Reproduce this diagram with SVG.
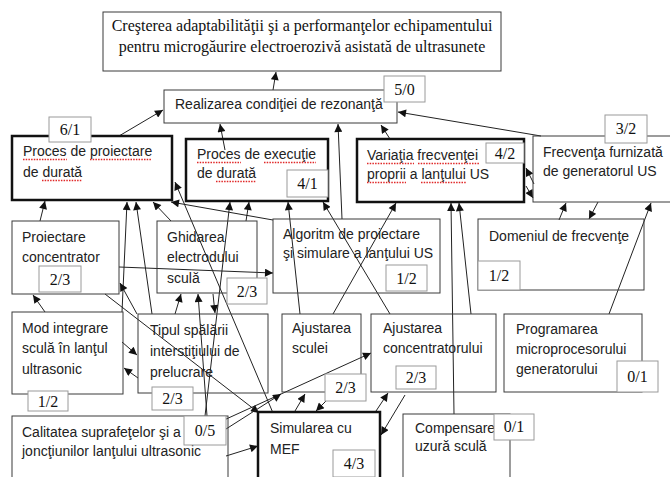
<svg xmlns="http://www.w3.org/2000/svg" width="670" height="477" viewBox="0 0 670 477">
<defs>
<style>
.box{fill:none;stroke:#3a3a3a;stroke-width:1}
.thick{fill:none;stroke:#111;stroke-width:2.5}
.lbl{fill:#fff;stroke:#9a9a9a;stroke-width:1}
.t{font-family:"Liberation Sans",Arial,sans-serif;font-size:14px;fill:#222}
.s{font-family:"Liberation Serif","Times New Roman",serif;font-size:16px;fill:#111}
.sc{font-family:"Liberation Serif","Times New Roman",serif;font-size:16px;fill:#111;text-anchor:middle}
.c{stroke:#222;stroke-width:1;fill:none;marker-end:url(#ah)}
.sq{stroke:#e02828;stroke-width:1.3;stroke-dasharray:1.5 1.2;fill:none}
</style>
<marker id="ah" viewBox="0 0 10 10" refX="10" refY="5" markerWidth="9" markerHeight="8" markerUnits="userSpaceOnUse" orient="auto"><path d="M0,0 L10,5 L0,10 z" fill="#111"/></marker>
</defs>
<rect width="670" height="477" fill="#fff"/>

<g id="connectors">
<line class="c" x1="273" y1="90" x2="276" y2="72"/>
<line class="c" x1="119" y1="136" x2="163" y2="110"/>
<line class="c" x1="225" y1="150" x2="220" y2="124"/>
<line class="c" x1="342" y1="219" x2="338" y2="124"/>
<line class="c" x1="390" y1="139" x2="381" y2="125"/>
<line class="c" x1="541" y1="136" x2="398" y2="112"/>
<line class="c" x1="534" y1="184" x2="526" y2="168"/>
<line class="c" x1="526" y1="186" x2="533" y2="198"/>
<line class="c" x1="559" y1="220" x2="566" y2="203"/>
<line class="c" x1="598" y1="202" x2="589" y2="219"/>
<line class="c" x1="609" y1="314" x2="651" y2="203"/>
<line class="c" x1="40" y1="221" x2="45" y2="201"/>
<line class="c" x1="122" y1="312" x2="127" y2="202"/>
<line class="c" x1="152" y1="314" x2="136" y2="202"/>
<line class="c" x1="171" y1="221" x2="153" y2="202"/>
<line class="c" x1="273" y1="220" x2="171" y2="202"/>
<line class="c" x1="273" y1="413" x2="175" y2="182"/>
<line class="c" x1="119" y1="267" x2="273" y2="273"/>
<line class="c" x1="137" y1="314" x2="120" y2="283"/>
<line class="c" x1="45" y1="312" x2="33" y2="295"/>
<line class="c" x1="105" y1="294" x2="259" y2="413"/>
<line class="c" x1="246" y1="221" x2="249" y2="202"/>
<line class="c" x1="205" y1="416" x2="230" y2="202"/>
<line class="c" x1="207" y1="416" x2="198" y2="294"/>
<line class="c" x1="175" y1="314" x2="181" y2="294"/>
<line class="c" x1="213" y1="294" x2="215" y2="313"/>
<line class="c" x1="300" y1="314" x2="288" y2="202"/>
<line class="c" x1="390" y1="314" x2="323" y2="202"/>
<line class="c" x1="333" y1="314" x2="396" y2="203"/>
<line class="c" x1="454" y1="414" x2="451" y2="203"/>
<line class="c" x1="471" y1="314" x2="459" y2="203"/>
<line class="c" x1="122" y1="342" x2="137" y2="355"/>
<line class="c" x1="138" y1="378" x2="124" y2="368"/>
<line class="c" x1="224" y1="420" x2="371" y2="353"/>
<line class="c" x1="226" y1="429" x2="281" y2="394"/>
<line class="c" x1="226" y1="456" x2="258" y2="446"/>
<line class="c" x1="295" y1="411" x2="305" y2="394"/>
<line class="c" x1="326" y1="401" x2="316" y2="411"/>
<line class="c" x1="376" y1="411" x2="388" y2="393"/>
<line class="c" x1="405" y1="395" x2="381" y2="435"/>
</g>

<g id="goal">
<rect class="box" x="103" y="12" width="398" height="59"/>
<text class="sc" x="302" y="31">Creşterea adaptabilităţii şi a performanţelor echipamentului</text>
<text class="sc" x="302" y="52">pentru microgăurire electroerozivă asistată de ultrasunete</text>
</g>

<g id="realizarea">
<rect class="box" x="164" y="90" width="233" height="33"/>
<text class="t" x="175" y="109">Realizarea condiţiei de rezonanţă</text>
<rect class="lbl" x="384" y="76" width="41" height="26"/>
<text class="sc" x="404.5" y="95">5/0</text>
</g>

<g id="proces-proiectare">
<rect class="thick" x="12" y="136" width="160" height="64"/>
<rect class="lbl" x="49" y="117" width="42" height="25"/>
<text class="sc" x="70" y="135">6/1</text>
<text class="t" x="23" y="156">Proces de proiectare</text>
<text class="t" x="23" y="177">de durată</text>
<line class="sq" x1="23" y1="159.5" x2="67" y2="159.5"/>
<line class="sq" x1="90" y1="159.5" x2="152" y2="159.5"/>
<line class="sq" x1="42" y1="180.5" x2="82" y2="180.5"/>
</g>

<g id="proces-executie">
<rect class="thick" x="186" y="139" width="142" height="62"/>
<text class="t" x="197" y="159">Proces de execuţie</text>
<text class="t" x="197" y="178">de durată</text>
<line class="sq" x1="197" y1="162.5" x2="241" y2="162.5"/>
<line class="sq" x1="264" y1="162.5" x2="316" y2="162.5"/>
<line class="sq" x1="216" y1="181.5" x2="256" y2="181.5"/>
<rect class="lbl" x="287" y="170" width="41" height="27"/>
<text class="sc" x="307.5" y="189">4/1</text>
</g>

<g id="variatia">
<rect class="thick" x="357" y="139" width="167" height="63"/>
<text class="t" x="367" y="160">Variaţia frecvenţei</text>
<text class="t" x="367" y="179">proprii a lanţului US</text>
<line class="sq" x1="367" y1="163.5" x2="414" y2="163.5"/>
<line class="sq" x1="418" y1="163.5" x2="479" y2="163.5"/>
<line class="sq" x1="367" y1="182.5" x2="406" y2="182.5"/>
<line class="sq" x1="421" y1="182.5" x2="466" y2="182.5"/>
<rect class="lbl" x="486" y="143" width="38" height="20"/>
<text class="sc" x="505" y="158.5">4/2</text>
</g>

<g id="frecventa">
<rect class="box" x="533" y="136" width="142" height="66"/>
<rect class="lbl" x="605" y="115" width="42" height="28"/>
<text class="sc" x="626" y="134">3/2</text>
<text class="t" x="543" y="157">Frecvenţa furnizată</text>
<text class="t" x="543" y="176">de generatorul US</text>
</g>

<g id="proiectare-concentrator">
<rect class="box" x="12" y="221" width="107" height="73"/>
<text class="t" x="22" y="242">Proiectare</text>
<text class="t" x="22" y="262">concentrator</text>
<rect class="lbl" x="39" y="266" width="42" height="26"/>
<text class="sc" x="60" y="284.5">2/3</text>
</g>

<g id="ghidarea">
<rect class="box" x="157" y="221" width="100" height="72"/>
<text class="t" x="167" y="242">Ghidarea</text>
<text class="t" x="167" y="262">electrodului</text>
<text class="t" x="167" y="283">sculă</text>
<rect class="lbl" x="227" y="278" width="40" height="26"/>
<text class="sc" x="247" y="296.5">2/3</text>
</g>

<g id="algoritm">
<rect class="box" x="273" y="219" width="167" height="74"/>
<text class="t" x="283" y="239">Algoritm de proiectare</text>
<text class="t" x="283" y="258">şi simulare a lanţului US</text>
<rect class="lbl" x="386" y="265" width="41" height="26"/>
<text class="sc" x="406.5" y="283.5">1/2</text>
</g>

<g id="domeniul">
<rect class="box" x="478" y="219" width="166" height="71"/>
<text class="t" x="489" y="241">Domeniul de frecvenţe</text>
<rect class="lbl" x="478" y="261" width="42" height="29"/>
<text class="sc" x="499" y="281">1/2</text>
</g>

<g id="mod-integrare">
<rect class="box" x="12" y="312" width="111" height="82"/>
<text class="t" x="22" y="333">Mod integrare</text>
<text class="t" x="22" y="353">sculă în lanţul</text>
<text class="t" x="22" y="374">ultrasonic</text>
<rect class="lbl" x="28" y="391" width="40" height="20"/>
<text class="sc" x="48" y="406.5">1/2</text>
</g>

<g id="tipul">
<rect class="box" x="138" y="314" width="130" height="79"/>
<text class="t" x="150" y="335">Tipul spălării</text>
<text class="t" x="150" y="356">interstiţiului de</text>
<text class="t" x="150" y="377">prelucrare</text>
<rect class="lbl" x="152" y="387" width="41" height="23"/>
<text class="sc" x="172.5" y="404">2/3</text>
</g>

<g id="ajustarea-sculei">
<rect class="box" x="282" y="314" width="79" height="78"/>
<text class="t" x="292" y="333">Ajustarea</text>
<text class="t" x="292" y="353">sculei</text>
<rect class="lbl" x="325" y="374" width="41" height="27"/>
<text class="sc" x="345.5" y="393">2/3</text>
</g>

<g id="ajustarea-concentratorului">
<rect class="box" x="371" y="314" width="125" height="78"/>
<text class="t" x="383" y="333">Ajustarea</text>
<text class="t" x="383" y="353">concentratorului</text>
<rect class="lbl" x="396" y="366" width="40" height="23"/>
<text class="sc" x="416" y="383">2/3</text>
</g>

<g id="programarea">
<rect class="box" x="504" y="314" width="138" height="78"/>
<text class="t" x="516" y="334">Programarea</text>
<text class="t" x="516" y="354">microprocesorului</text>
<text class="t" x="516" y="374">generatorului</text>
<rect class="lbl" x="617" y="361" width="41" height="31"/>
<text class="sc" x="637.5" y="382">0/1</text>
</g>

<g id="calitatea">
<rect class="box" x="12" y="416" width="216" height="70"/>
<text class="t" x="22" y="437">Calitatea suprafeţelor şi a</text>
<text class="t" x="22" y="456">joncţiunilor lanţului ultrasonic</text>
<rect class="lbl" x="184" y="416" width="42" height="29"/>
<text class="sc" x="205" y="436">0/5</text>
</g>

<g id="simularea">
<rect class="thick" x="258" y="412" width="122" height="72"/>
<text class="t" x="270" y="433">Simularea cu</text>
<text class="t" x="270" y="454">MEF</text>
<rect class="lbl" x="333" y="450" width="42" height="27"/>
<text class="sc" x="354" y="469">4/3</text>
</g>

<g id="compensare">
<rect class="box" x="403" y="414" width="107" height="72"/>
<text class="t" x="415" y="433">Compensare</text>
<text class="t" x="415" y="451">uzură sculă</text>
<rect class="lbl" x="494" y="414" width="40" height="26"/>
<text class="sc" x="514" y="432">0/1</text>
</g>
</svg>
